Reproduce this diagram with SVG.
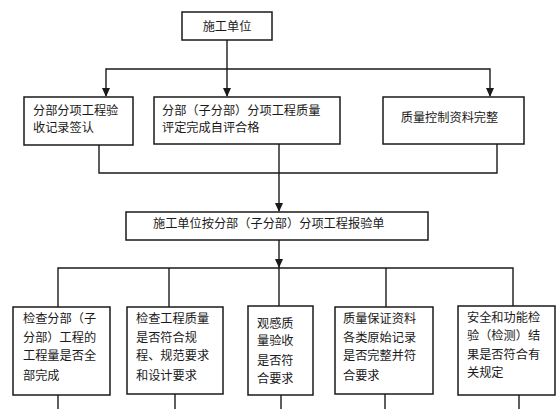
<svg xmlns="http://www.w3.org/2000/svg" width="560" height="409" viewBox="0 0 560 409">
<defs>
<style>
.box{fill:#fff;stroke:#1a1a1a;stroke-width:1.5}
.ln{fill:none;stroke:#1a1a1a;stroke-width:1.4}
text{font-family:"Noto Sans CJK SC","Noto Sans CJK JP",sans-serif;font-size:12.2px;fill:#1a1a1a}
</style>
<marker id="ah" viewBox="0 0 8 9" refX="4" refY="9" markerWidth="8" markerHeight="9" markerUnits="userSpaceOnUse" orient="auto-start-reverse">
<path d="M0,0 L8,0 L4,9 Z" fill="#1a1a1a"/>
</marker>
</defs>
<rect width="560" height="409" fill="#fff"/>
<g id="connectors">
<line class="ln" x1="227" y1="40" x2="227" y2="96"/>
<path class="ln" d="M106,96 V69 H490 V96"/>
<path d="M102,88 L110,88 L106,97 Z M223,88 L231,88 L227,97 Z M486,88 L494,88 L490,97 Z" fill="#1a1a1a"/>
<path class="ln" d="M99,144 V173 H497 V144"/>
<line class="ln" x1="279" y1="144" x2="279" y2="211"/>
<path d="M275,203 L283,203 L279,212 Z" fill="#1a1a1a"/>
<line class="ln" x1="279" y1="240" x2="279" y2="306"/>
<path d="M275,259 L283,259 L279,268 Z" fill="#1a1a1a"/>
<path class="ln" d="M58,307 V268 H513 V306"/>
<line class="ln" x1="169" y1="268" x2="169" y2="307"/>
<line class="ln" x1="386" y1="268" x2="386" y2="307"/>
<line class="ln" x1="58" y1="395" x2="58" y2="409"/>
<line class="ln" x1="175" y1="394" x2="175" y2="409"/>
<line class="ln" x1="281" y1="395" x2="281" y2="409"/>
<line class="ln" x1="385" y1="394" x2="385" y2="409"/>
<line class="ln" x1="519" y1="395" x2="519" y2="409"/>
</g>
<g id="n-top">
<rect class="box" x="182" y="12" width="90" height="28"/>
<text x="227" y="30.5" text-anchor="middle">施工单位</text>
</g>
<g id="n-a">
<rect class="box" x="24" y="97" width="109" height="48"/>
<text x="33" y="114.5">分部分项工程验</text>
<text x="33" y="131.5">收记录签认</text>
</g>
<g id="n-b">
<rect class="box" x="154" y="97" width="186" height="47"/>
<text x="162" y="114.5">分部（子分部）分项工程质量</text>
<text x="162" y="131.5">评定完成自评合格</text>
</g>
<g id="n-c">
<rect class="box" x="383" y="97" width="141" height="47"/>
<text x="449.5" y="121.5" text-anchor="middle">质量控制资料完整</text>
</g>
<g id="n-mid">
<rect class="box" x="126" y="212" width="302" height="28"/>
<text x="153" y="227.5">施工单位按分部（子分部）分项工程报验单</text>
</g>
<g id="n-1">
<rect class="box" x="13" y="307" width="97" height="88"/>
<text x="23" y="322.5">检查分部（子</text>
<text x="23" y="341.5">分部）工程的</text>
<text x="23" y="360">工程量是否全</text>
<text x="23" y="379.5">部完成</text>
</g>
<g id="n-2">
<rect class="box" x="127" y="307" width="96" height="87"/>
<text x="136" y="322.5">检查工程质量</text>
<text x="136" y="341.5">是否符合规</text>
<text x="136" y="360">程、规范要求</text>
<text x="136" y="379.5">和设计要求</text>
</g>
<g id="n-3">
<rect class="box" x="248" y="306" width="65" height="89"/>
<text x="257" y="327.5">观感质</text>
<text x="257" y="345">量验收</text>
<text x="257" y="364.5">是否符</text>
<text x="257" y="382.5">合要求</text>
</g>
<g id="n-4">
<rect class="box" x="335" y="307" width="98" height="87"/>
<text x="343" y="322.5">质量保证资料</text>
<text x="343" y="341.5">各类原始记录</text>
<text x="343" y="360">是否完整并符</text>
<text x="343" y="379.5">合要求</text>
</g>
<g id="n-5">
<rect class="box" x="458" y="306" width="97" height="89"/>
<text x="467" y="321.5">安全和功能检</text>
<text x="467" y="340">验（检测）结</text>
<text x="467" y="358.5">果是否符合有</text>
<text x="467" y="377">关规定</text>
</g>
</svg>
